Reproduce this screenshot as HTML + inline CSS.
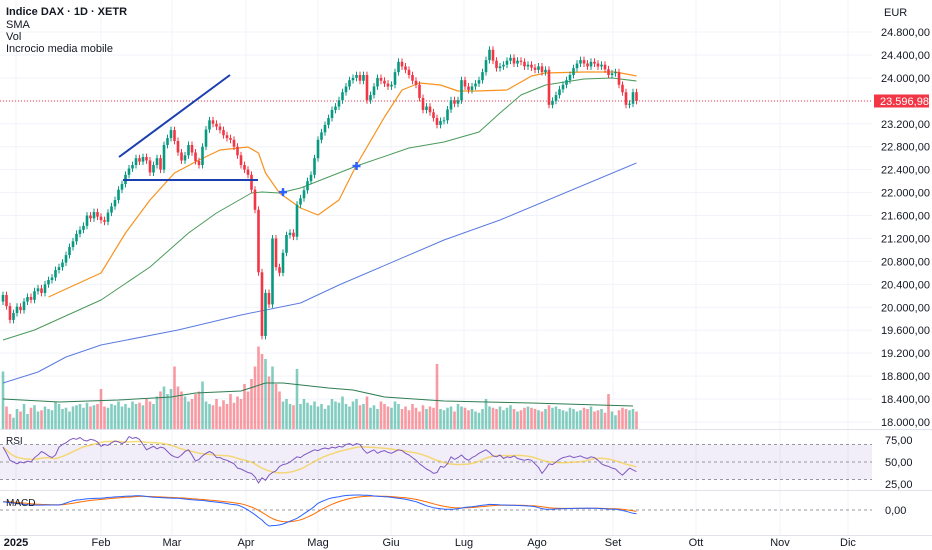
<!DOCTYPE html>
<html><head><meta charset="utf-8">
<style>
html,body{margin:0;padding:0;background:#fff;}
svg{display:block;font-family:"Liberation Sans",sans-serif;}
</style></head>
<body>
<svg id="c" width="932" height="550" viewBox="0 0 932 550">
<g id="grid"></g>
<g id="main"></g>
<g id="vol"></g>
<g id="rsi"></g>
<g id="macd"></g>
<g id="axis"></g>
<g>
<text x="6" y="15" font-size="11" font-weight="bold" fill="#131722">Indice DAX · 1D · XETR</text>
<text x="6" y="28" font-size="11" fill="#131722">SMA</text>
<text x="6" y="40" font-size="11" fill="#131722">Vol</text>
<text x="6" y="52" font-size="11" fill="#131722">Incrocio media mobile</text>
<text x="6" y="444" font-size="10" fill="#131722">RSI</text>
<text x="6" y="506" font-size="10" fill="#131722">MACD</text>
</g>
</svg>
<script>
const closes=[20214,20020,19780,19900,20010,19950,20100,20180,20130,20280,
20330,20250,20400,20475,20520,20650,20700,20780,20910,21050,
21150,21280,21350,21420,21600,21550,21660,21580,21520,21490,
21650,21760,21870,22050,22150,22310,22420,22480,22600,22540,
22620,22560,22350,22480,22600,22400,22830,22950,23090,22900,
22700,22560,22650,22830,22700,22550,22480,22800,23100,23260,
23200,23150,23090,23000,22950,22920,22800,22650,22480,22400,
22310,22050,21700,20610,19500,20250,20050,21200,20700,20600,
20950,21260,21300,21230,21790,21900,22040,22200,22310,22600,
22920,23050,23180,23300,23440,23500,23610,23750,23850,23960,
24000,24050,23950,24050,23610,23700,23850,24000,23950,23900,
23850,23880,24100,24280,24200,24140,24050,23950,23880,23650,
23440,23500,23400,23300,23180,23250,23260,23450,23610,23550,
23610,23960,23850,23790,23850,23900,23960,24100,24310,24490,
24300,24170,24200,24230,24300,24350,24250,24300,24280,24200,
24230,24180,24140,24200,24100,24140,23530,23600,23700,23800,
23880,23960,24050,24170,24250,24310,24250,24200,24280,24250,
24200,24230,24150,24050,24080,24100,23880,23750,23530,23550,
23750,23597];
const firstOpen=20100;
const volumes=[230,90,60,45,80,70,100,60,85,95,
70,75,90,80,75,110,100,80,85,70,
90,95,100,85,105,90,95,100,160,90,
85,100,95,110,90,100,85,110,100,105,
95,120,110,100,130,150,170,140,160,250,
170,150,130,110,120,140,150,190,110,100,
95,120,90,115,100,140,105,130,120,180,
150,200,250,330,300,280,210,250,180,150,
110,120,100,95,240,100,120,105,95,110,
90,100,80,95,120,110,105,130,100,90,
110,120,95,100,130,85,95,80,110,100,
90,85,110,100,80,90,75,100,85,70,
95,80,90,85,260,80,75,85,90,70,
100,90,85,75,80,70,65,80,120,90,
85,80,90,75,85,95,80,70,75,85,
90,85,80,75,70,80,95,85,90,80,
75,70,85,80,70,75,85,80,90,70,
75,80,65,140,70,55,75,85,80,75,
80,70];
const volMaIdx=[0,16,33,48,55,68,75,80,93,100,109,126,151,180];
const volMaVal=[120,108,116,128,144,152,184,184,164,156,128,112,104,92];
const sma20Idx=[13,28,35,42,49,56,62,70,73,75,79,85,90,96,101,109,114,119,125,130,135,144,151,155,166,175,181];
const sma20Val=[20179,20598,21295,21871,22341,22568,22742,22795,22690,22341,21993,21731,21609,21871,22481,23318,23789,23911,23876,23771,23771,23789,24033,24085,24102,24102,24033];
const sma50Idx=[0,9,28,42,53,61,71,74,79,85,101,116,126,136,142,148,155,166,174,181];
const sma50Val=[19429,19604,20127,20702,21295,21644,21993,22010,21993,22080,22464,22777,22882,23056,23388,23701,23876,23980,23998,23946];
const sma200Idx=[0,10,18,28,50,68,85,96,126,142,181];
const sma200Val=[18680,18872,19133,19342,19604,19866,20075,20388,21173,21522,22516];
const crossIdx=[80,101];
const rsi=[67,60,52,50,48,50,49,51,50,55,
58,62,60,57,55,58,67,70,72,75,
77,76,78,75,74,76,75,73,68,70,
69,72,74,73,71,73,79,77,78,76,
70,64,66,68,65,67,66,62,58,56,
55,58,62,64,58,51,53,57,60,62,
60,55,55,53,52,50,48,43,42,40,
38,37,33,26,32,29,35,38,40,45,
47,48,50,53,56,55,58,60,62,64,
63,65,66,65,67,66,68,67,70,71,
69,71,70,64,60,62,64,60,62,63,
61,60,62,64,63,60,58,55,52,48,
45,42,40,37,38,45,44,48,56,53,
55,58,54,52,55,57,60,62,64,61,
57,56,58,54,56,55,57,54,53,52,
53,52,48,44,37,42,48,47,50,53,
55,56,57,55,56,57,55,54,56,55,
52,48,46,45,43,42,38,35,39,43,
41,39];
const macd=[178,170,160,150,140,130,120,110,107,105,
105,106,107,107,108,107,107,125,150,175,
200,214,220,230,240,245,248,250,252,260,
270,275,280,285,290,295,298,300,305,307,
300,290,280,275,270,265,262,258,255,250,
250,245,235,225,220,214,210,205,195,185,
178,170,160,150,140,125,115,107,80,40,
0,-50,-100,-160,-214,-290,-343,-335,-330,-320,
-300,-270,-240,-210,-178,-130,-80,-30,20,80,
143,180,210,240,260,275,286,300,310,318,
320,321,321,318,315,310,300,295,290,286,
280,270,260,250,240,230,215,195,178,150,
120,90,70,50,36,25,20,15,14,20,
30,40,55,65,71,80,90,100,110,121,
118,115,110,108,105,102,100,97,95,90,
85,80,71,50,30,14,14,18,22,25,
28,30,32,34,36,36,38,40,38,36,
34,30,25,20,16,14,5,-10,-25,-50,
-71,-80];
const priceTicks=[24800,24400,24000,23600,23200,22800,22400,22000,21600,21200,20800,20400,20000,19600,19200,18800,18400,18000];
const monthLabels=["2025","Feb","Mar","Apr","Mag","Giu","Lug","Ago","Set","Ott","Nov","Dic"];
const monthX=[16,101,172,246,318,391,464,537,613,696,780,848];
const rsiTicks=[75,50,25];
const lastPrice=23596.98;

const NS="http://www.w3.org/2000/svg";
const X=i=>3+i*3.5;
const Y=p=>32+(24800-p)/400*22.94;
const VY=v=>429-v*0.25;
const RY=r=>462-(r-50)*0.875;
const MY=m=>510-m*14/300;
function mk(parent,tag,attrs){const e=document.createElementNS(NS,tag);for(const k in attrs)e.setAttribute(k,attrs[k]);document.getElementById(parent).appendChild(e);return e;}
const fmt=v=>{const s=v.toFixed(2).split('.');return s[0].replace(/\B(?=(\d{3})+(?!\d))/g,'.')+','+s[1];};

// grid
monthX.forEach(x=>{const l=mk('grid','line',{x1:x,x2:x,y1:0,y2:535,stroke:'#f0f3fa','stroke-width':1});

});
priceTicks.forEach(p=>{const l=mk('grid','line',{x1:0,x2:872,y1:Y(p),y2:Y(p),stroke:'#f0f3fa','stroke-width':1});

});
[429.5,490.5,535.5].forEach(y=>{const l=mk('grid','line',{x1:0,x2:932,y1:y,y2:y,stroke:'#e0e3eb','stroke-width':1});

});

// volume
volumes.forEach((v,i)=>{const o=i?closes[i-1]:firstOpen;const up=closes[i]>=o;
const r=mk('vol','rect',{x:X(i)-1.3,y:VY(v),width:2.6,height:429-VY(v),fill:up?'rgba(8,153,129,0.5)':'rgba(242,54,69,0.5)'});

});
function poly(g,idx,val,fy,color,w,name){const pts=idx.map((ix,k)=>X(ix).toFixed(1)+','+fy(val[k]).toFixed(1)).join(' ');
const p=mk(g,'polyline',{points:pts,fill:'none',stroke:color,'stroke-width':w,'stroke-linejoin':'round'});

return p;}
poly('vol',volMaIdx,volMaVal,VY,'#2e7d52',1,'volume-ma-line');

// price dotted line
const pl=mk('main','line',{x1:0,x2:872,y1:Y(lastPrice),y2:Y(lastPrice),stroke:'#f23645','stroke-width':1,'stroke-dasharray':'1,2'});



// SMAs
poly('main',sma200Idx,sma200Val,Y,'#5b7be0',1,'sma-200-line');
poly('main',sma50Idx,sma50Val,Y,'#4a9a5a',1,'sma-50-line');
poly('main',sma20Idx,sma20Val,Y,'#f7931e',1.2,'sma-20-line');

// candles
closes.forEach((c,i)=>{const o=i?closes[i-1]:firstOpen;const up=c>=o;const col=up?'#089981':'#f23645';
const hi=Math.max(o,c)+60,lo=Math.min(o,c)-60;
const w=mk('main','line',{x1:X(i),x2:X(i),y1:Y(hi),y2:Y(lo),stroke:col,'stroke-width':1});


const t=Y(Math.max(o,c)),b=Y(Math.min(o,c));
const r=mk('main','rect',{x:X(i)-1.3,y:t,width:2.6,height:Math.max(1,b-t),fill:col});

});

// drawings
const t1=mk('main','line',{x1:119,y1:157,x2:230,y2:75,stroke:'#1c3fb0','stroke-width':2});


const t2=mk('main','line',{x1:123,y1:180,x2:258,y2:180,stroke:'#1c3fb0','stroke-width':2});


crossIdx.forEach((ix,k)=>{const cx=X(ix)+[-0,0][k];
let cy;for(let j=0;j<sma50Idx.length-1;j++){if(ix>=sma50Idx[j]&&ix<=sma50Idx[j+1]){const f=(ix-sma50Idx[j])/(sma50Idx[j+1]-sma50Idx[j]);cy=Y(sma50Val[j]+f*(sma50Val[j+1]-sma50Val[j]));}}
const p=mk('main','path',{d:`M${cx-4} ${cy}H${cx+4}M${cx} ${cy-4}V${cy+4}`,stroke:'#2962ff','stroke-width':2.5});

});

// RSI
const band=mk('rsi','rect',{x:0,y:RY(70),width:872,height:RY(30)-RY(70),fill:'rgba(126,87,194,0.1)'});


[70,50,30].forEach(v=>{const l=mk('rsi','line',{x1:0,x2:872,y1:RY(v),y2:RY(v),stroke:'#9598a1','stroke-width':1,'stroke-dasharray':'3,3'});

});
const rsiMa=rsi.map((v,i)=>{const s=rsi.slice(Math.max(0,i-13),i+1);return s.reduce((a,b)=>a+b,0)/s.length;});
const allIdx=closes.map((_,i)=>i);
poly('rsi',allIdx,rsiMa,RY,'rgba(245,205,60,0.7)',1.5,'rsi-ma-line');
poly('rsi',allIdx,rsi,RY,'#7e57c2',1,'rsi-line');

// MACD
const z=mk('macd','line',{x1:0,x2:872,y1:MY(0),y2:MY(0),stroke:'#9598a1','stroke-width':1,'stroke-dasharray':'3,3'});


const sig=[];macd.forEach((v,i)=>{sig.push(i?sig[i-1]+(v-sig[i-1])*0.2:v);});
poly('macd',allIdx,sig,MY,'#ff6d00',1,'macd-signal-line');
poly('macd',allIdx,macd,MY,'#2962ff',1,'macd-line');

// axes labels
function txt(g,x,y,s,opts,name){const t=mk(g,'text',Object.assign({x:x,y:y,'font-size':11,fill:'#131722'},opts||{}));t.textContent=s;

return t;}
txt('axis',884,16,'EUR',{},'currency-label');
priceTicks.forEach(p=>{if(p===23600)return;txt('axis',881,Y(p)+4,fmt(p),{},'price-tick-label');});
const box=mk('axis','rect',{x:874,y:Y(lastPrice)-6.5,width:55,height:13,fill:'#f23645'});


txt('axis',880,Y(lastPrice)+4,fmt(lastPrice),{fill:'#fff'},'last-price-label');
rsiTicks.forEach(r=>txt('axis',885,RY(r)+4,fmt(r),{},'rsi-tick-label'));
txt('axis',885,MY(0)+4,'0,00',{},'macd-tick-label');
monthLabels.forEach((m,k)=>txt('axis',monthX[k],546,m,{'text-anchor':'middle','font-weight':k===0?'bold':'normal'},'time-tick-label'));
</script>
</body></html>
